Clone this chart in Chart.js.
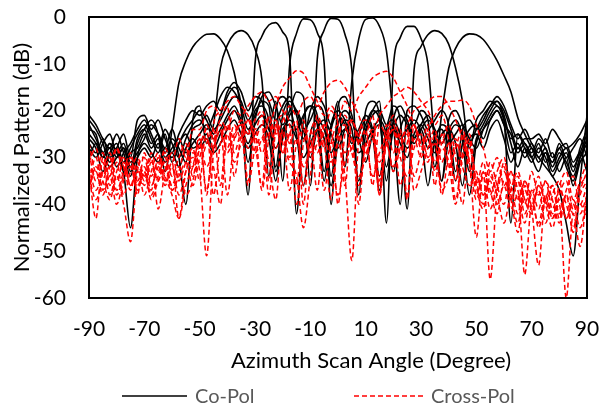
<!DOCTYPE html>
<html>
<head>
<meta charset="utf-8">
<script src="https://cdn.jsdelivr.net/npm/chart.js@4.4.1/dist/chart.umd.min.js"></script>
<style>
html, body { margin: 0; padding: 0; background: #fff; }
#wrap { width: 602px; height: 403px; position: relative; }
</style>
</head>
<body>
<div id="wrap"><canvas id="pattern"></canvas></div>
<script>
// azimuth angles (degree), shared by every curve
const angles = [
  -90, -87.5, -85, -82.5, -80, -77.5, -75, -72.5,
  -70, -67.5, -65, -62.5, -60, -57.5, -55, -52.5,
  -50, -47.5, -45, -42.5, -40, -37.5, -35, -32.5,
  -30, -27.5, -25, -22.5, -20, -17.5, -15, -12.5,
  -10, -7.5, -5, -2.5, 0, 2.5, 5, 7.5,
  10, 12.5, 15, 17.5, 20, 22.5, 25, 27.5,
  30, 32.5, 35, 37.5, 40, 42.5, 45, 47.5,
  50, 52.5, 55, 57.5, 60, 62.5, 65, 67.5,
  70, 72.5, 75, 77.5, 80, 82.5, 85, 87.5,
  90
];

// co-polar beams (dB), one per scan position
const coPol1 = [
  -21, -23, -26, -28, -25, -29, -34, -27,
  -24, -22, -25, -33, -24, -14, -9.4, -6.4,
  -4.7, -3.7, -3.6, -4.7, -7.2, -11.9, -20, -31,
  -22, -18, -19, -33, -26, -21, -20, -24,
  -30, -24, -22, -25, -28, -24, -22, -26,
  -31, -25, -23, -26, -24, -27, -30, -25,
  -23, -26, -29, -25, -24, -27, -36, -26,
  -25, -28, -24, -22, -26, -31, -28, -29,
  -27, -30, -28, -32, -29, -31, -34, -30,
  -27
];
const coPol2 = [
  -24, -25, -30, -27, -29, -33, -45, -30,
  -26, -23, -25, -28, -24, -30, -40, -22,
  -19, -27, -23, -10.9, -6, -3.6, -2.9, -3.8,
  -6.8, -13.4, -34, -20, -17, -19, -24, -21,
  -19, -23, -35, -24, -21, -23, -27, -25,
  -22, -25, -37, -24, -22, -25, -28, -26,
  -24, -28, -26, -23, -25, -35, -27, -24,
  -23, -26, -22, -20, -23, -29, -27, -30,
  -28, -31, -29, -33, -30, -28, -32, -29,
  -25
];
const coPol3 = [
  -26, -28, -33, -29, -27, -31, -28, -25,
  -23, -26, -29, -25, -31, -27, -24, -22,
  -20, -22, -25, -21, -17, -15, -19, -38,
  -10, -4.1, -1.7, -1.2, -3.2, -8, -42, -22,
  -19, -21, -33, -23, -20, -22, -26, -24,
  -21, -24, -34, -25, -23, -26, -24, -22,
  -25, -36, -26, -24, -27, -25, -23, -26,
  -28, -24, -21, -19, -22, -27, -32, -28,
  -30, -27, -31, -29, -33, -30, -36, -31,
  -29
];
const coPol4 = [
  -22, -24, -27, -31, -28, -25, -30, -22,
  -21, -24, -22, -26, -29, -25, -22, -20,
  -21, -19, -18, -20, -16, -14, -16, -20,
  -17, -18, -24, -18, -35, -10.4, -3.5, -0.4,
  -0.6, -3.3, -9.9, -40, -19, -17, -21, -27,
  -23, -20, -22, -32, -24, -21, -23, -27,
  -24, -22, -25, -35, -26, -23, -25, -33,
  -26, -23, -20, -18, -21, -26, -25, -28,
  -31, -28, -30, -34, -31, -29, -33, -28,
  -24
];
const coPol5 = [
  -25, -27, -30, -28, -32, -29, -27, -24,
  -22, -25, -28, -24, -27, -30, -26, -23,
  -22, -24, -21, -17, -15, -16, -19, -24,
  -21, -17, -16, -19, -23, -20, -16, -17,
  -36, -9, -2.8, -0.3, -0.5, -3.7, -11.3, -38,
  -20, -18, -21, -35, -22, -19, -22, -26,
  -23, -21, -24, -27, -24, -22, -26, -38,
  -27, -24, -22, -20, -23, -25, -29, -27,
  -30, -33, -29, -31, -28, -32, -35, -30,
  -26
];
const coPol6 = [
  -23, -26, -29, -27, -30, -28, -32, -26,
  -24, -27, -25, -29, -26, -28, -31, -24,
  -23, -21, -24, -22, -19, -17, -18, -22,
  -19, -16, -18, -22, -19, -17, -21, -26,
  -20, -17, -19, -23, -18, -32, -13.7, -4.7,
  -0.5, -0.2, -2, -7.2, -22, -40, -20, -19,
  -21, -24, -22, -20, -23, -33, -24, -22,
  -24, -22, -19, -18, -20, -24, -28, -26,
  -26, -25, -27, -24, -26, -28, -27, -25,
  -22
];
const coPol7 = [
  -27, -29, -26, -30, -28, -33, -29, -28,
  -25, -28, -26, -30, -28, -26, -29, -27,
  -25, -23, -26, -24, -21, -19, -22, -25,
  -20, -19, -22, -32, -21, -18, -20, -24,
  -22, -19, -21, -34, -23, -20, -22, -27,
  -24, -20, -18, -44, -10.6, -4.4, -2, -2,
  -4.6, -10.1, -27, -35, -22, -20, -23, -27,
  -24, -21, -19, -17, -19, -23, -26, -24,
  -27, -29, -26, -30, -28, -27, -31, -29,
  -33
];
const coPol8 = [
  -28, -30, -27, -25, -29, -27, -31, -29,
  -27, -29, -31, -28, -30, -27, -25, -28,
  -27, -25, -28, -25, -22, -20, -23, -27,
  -23, -21, -24, -28, -24, -22, -25, -36,
  -25, -22, -24, -29, -25, -22, -24, -35,
  -25, -21, -20, -23, -19, -22, -41, -11.3,
  -6.3, -3.8, -2.9, -3.5, -5.8, -10.9, -18, -28,
  -22, -20, -18, -19, -22, -44, -25, -27,
  -29, -26, -28, -31, -27, -30, -28, -26,
  -30
];
const coPol9 = [
  -30, -27, -29, -32, -30, -28, -33, -30,
  -28, -30, -27, -31, -29, -32, -28, -26,
  -28, -26, -29, -27, -24, -22, -25, -28,
  -25, -23, -26, -35, -25, -23, -26, -30,
  -27, -24, -26, -36, -27, -24, -26, -29,
  -27, -24, -22, -25, -33, -24, -21, -23,
  -20, -22, -32, -20.6, -11, -6.7, -4.4, -3.6,
  -3.8, -4.8, -6.8, -9.3, -12.5, -16, -21.5, -25,
  -28, -30, -32, -34, -37, -44, -51, -35,
  -21
];

// cross-polar curves (dB), same scan positions
const crossPol1 = [
  -27, -33, -29, -36, -31, -38, -33, -30,
  -34, -29, -33, -28, -31, -26, -30, -24,
  -24, -20, -19, -21, -19, -34, -25, -22,
  -26, -23, -38, -24, -21, -27, -23, -36,
  -25, -22, -28, -24, -40, -25, -22, -27,
  -24, -36, -23, -26, -32, -25, -39, -23,
  -27, -31, -25, -37, -34, -27, -30, -26,
  -36, -31, -38, -33, -30, -37, -34, -40,
  -33, -38, -35, -41, -36, -33, -39, -35,
  -31
];
const crossPol2 = [
  -29, -35, -31, -38, -34, -40, -48, -33,
  -30, -36, -32, -29, -34, -30, -27, -32,
  -25, -38, -23, -20, -18, -17, -19, -21,
  -24, -21, -35, -23, -29, -25, -22, -40,
  -26, -37, -23, -27, -25, -21, -26, -36,
  -27, -24, -38, -26, -23, -29, -25, -34,
  -29, -25, -31, -27, -23, -30, -40, -28,
  -35, -40, -33, -37, -31, -36, -42, -35,
  -38, -34, -40, -36, -43, -37, -34, -40,
  -36
];
const crossPol3 = [
  -33, -43, -30, -34, -28, -32, -37, -31,
  -35, -30, -41, -33, -29, -35, -31, -28,
  -35, -23, -26, -22, -24, -20, -21, -19,
  -17, -16, -18, -17, -20, -23, -36, -22,
  -29, -24, -27, -39, -26, -23, -29, -34,
  -30, -26, -36, -27, -24, -30, -34, -28,
  -25, -30, -27, -38, -29, -26, -32, -36,
  -34, -38, -31, -36, -40, -33, -37, -44,
  -37, -41, -35, -39, -44, -38, -42, -37,
  -33
];
const crossPol4 = [
  -31, -28, -34, -30, -37, -33, -29, -35,
  -32, -37, -30, -34, -38, -43, -33, -30,
  -31, -27, -24, -36, -23, -26, -22, -25,
  -22, -20, -23, -19, -15, -13, -11.5, -12,
  -15, -18, -21, -19, -23, -36, -22, -26,
  -29, -25, -38, -27, -33, -28, -24, -37,
  -33, -28, -24, -31, -27, -39, -29, -25,
  -36, -41, -34, -38, -44, -37, -33, -39,
  -42, -36, -40, -45, -38, -35, -41, -36,
  -34
];
const crossPol5 = [
  -35, -30, -37, -32, -28, -34, -31, -38,
  -29, -34, -31, -36, -32, -38, -33, -29,
  -33, -51, -29, -25, -28, -23, -26, -22,
  -27, -36, -21, -25, -22, -19, -21, -18,
  -17, -19, -16, -14, -13.5, -15, -18, -21,
  -25, -21, -35, -23, -29, -24, -38, -26,
  -30, -26, -33, -28, -31, -40, -30, -27,
  -38, -33, -37, -42, -35, -39, -46, -36,
  -40, -37, -44, -38, -35, -43, -39, -42,
  -38
];
const crossPol6 = [
  -37, -32, -35, -39, -33, -30, -36, -32,
  -38, -33, -29, -35, -31, -43, -36, -32,
  -26, -37, -27, -23, -29, -25, -22, -35,
  -24, -29, -25, -22, -27, -31, -34, -45,
  -34, -21, -24, -20, -22, -18, -20, -17,
  -15, -13, -12, -11.6, -13, -16, -19, -23,
  -27, -23, -36, -25, -32, -28, -24, -31,
  -39, -34, -41, -36, -33, -38, -44, -37,
  -41, -36, -39, -43, -37, -40, -45, -38,
  -35
];
const crossPol7 = [
  -32, -37, -33, -29, -35, -31, -36, -33,
  -36, -31, -35, -30, -37, -33, -28, -34,
  -27, -32, -28, -24, -38, -26, -23, -28,
  -25, -37, -26, -23, -29, -25, -40, -27,
  -24, -29, -25, -31, -27, -34, -52, -26,
  -22, -25, -21, -19, -17, -16, -15, -16,
  -18, -20, -23, -21, -26, -35, -25, -32,
  -33, -38, -35, -40, -36, -41, -38, -55,
  -40, -44, -38, -42, -39, -43, -40, -45,
  -39
];
const crossPol8 = [
  -34, -39, -35, -32, -38, -34, -30, -36,
  -33, -38, -34, -31, -36, -32, -38, -35,
  -28, -24, -38, -27, -23, -29, -25, -36,
  -28, -26, -31, -39, -24, -30, -26, -32,
  -28, -25, -37, -27, -23, -29, -26, -40,
  -27, -34, -29, -25, -21, -26, -23, -20,
  -19, -18, -17, -17, -19, -22, -26, -31,
  -47, -33, -56, -37, -32, -39, -35, -42,
  -38, -45, -39, -36, -42, -38, -46, -40,
  -43
];
const crossPol9 = [
  -36, -33, -38, -34, -40, -35, -32, -37,
  -33, -39, -35, -32, -37, -34, -31, -36,
  -30, -26, -32, -40, -25, -31, -27, -24,
  -29, -26, -23, -28, -25, -37, -27, -24,
  -30, -27, -23, -29, -38, -31, -28, -24,
  -29, -26, -31, -27, -24, -36, -27, -23,
  -28, -24, -21, -19, -18, -18, -17.7, -19,
  -23, -28, -33, -30, -36, -33, -39, -35,
  -41, -53, -38, -43, -40, -60, -42, -49,
  -37
];

const coPolSeries = [coPol1, coPol2, coPol3, coPol4, coPol5, coPol6, coPol7, coPol8, coPol9];
const crossPolSeries = [crossPol1, crossPol2, crossPol3, crossPol4, crossPol5, crossPol6, crossPol7, crossPol8, crossPol9];

const legendItems = [
    { label: 'Co-Pol', color: '#000000', dash: [] },
    { label: 'Cross-Pol', color: '#ff0000', dash: [5, 3] }
];

const FONT = 'Lato, "Open Sans", sans-serif';

Chart.defaults.font.family = FONT;
Chart.defaults.color = '#000000';

function toPoints(values) {
    return angles.map((a, i) => ({ x: a, y: values[i] }));
}

const datasets = [];
coPolSeries.forEach((values, idx) => {
    datasets.push({
        label: 'Co-Pol ' + (idx + 1),
        data: toPoints(values),
        borderColor: legendItems[0].color,
        borderWidth: 1.6,
        pointRadius: 0,
        cubicInterpolationMode: 'monotone',
        fill: false,
        order: 1
    });
});
crossPolSeries.forEach((values, idx) => {
    datasets.push({
        label: 'Cross-Pol ' + (idx + 1),
        data: toPoints(values),
        borderColor: legendItems[1].color,
        borderWidth: 1.5,
        borderDash: legendItems[1].dash,
        pointRadius: 0,
        cubicInterpolationMode: 'monotone',
        fill: false,
        order: 0
    });
});

// frame round the plot, x title and the bottom legend
const decorations = {
    id: 'decorations',
    afterDatasetsDraw(chart) {
        const { ctx, chartArea: a } = chart;
        ctx.save();
        ctx.strokeStyle = '#000000';
        ctx.lineWidth = 2;
        ctx.strokeRect(a.left, a.top, a.right - a.left, a.bottom - a.top);
        ctx.restore();
    },
    afterDraw(chart) {
        const { ctx, chartArea: a } = chart;
        ctx.save();
        ctx.font = '22px ' + FONT;
        ctx.fillStyle = '#000000';
        ctx.textAlign = 'center';
        ctx.textBaseline = 'middle';
        ctx.fillText('Azimuth Scan Angle (Degree)', (a.left + a.right) / 2 + 33, 361);

        const slots = [{ x: 122, w: 65 }, { x: 354, w: 69 }];
        const y = 396;
        ctx.font = '20px ' + FONT;
        ctx.textAlign = 'left';
        legendItems.forEach((item, i) => {
            const s = slots[i];
            ctx.beginPath();
            ctx.setLineDash(item.dash);
            ctx.strokeStyle = item.color;
            ctx.lineWidth = 1.5;
            ctx.moveTo(s.x, y);
            ctx.lineTo(s.x + s.w, y);
            ctx.stroke();
            ctx.setLineDash([]);
            ctx.fillStyle = '#595959';
            ctx.fillText(item.label, s.x + s.w + 8, y + 1);
        });
        ctx.restore();
    }
};

new Chart(document.getElementById('pattern').getContext('2d'), {
    type: 'line',
    data: { datasets },
    options: {
        responsive: true,
        maintainAspectRatio: false,
        animation: false,
        devicePixelRatio: 1,
        layout: { padding: { left: 0, right: 15, top: 17, bottom: 0 } },
        scales: {
            x: {
                type: 'linear',
                min: -90,
                max: 90,
                grid: { display: false, drawTicks: false },
                border: { display: false },
                ticks: { stepSize: 20, padding: 19, font: { size: 21 }, color: '#000000' },
                afterFit: (scale) => {
                    scale.height = 105;
                    scale.paddingLeft = 0;
                    scale.paddingRight = 0;
                }
            },
            y: {
                min: -60,
                max: 0,
                grid: { display: false, drawTicks: false },
                border: { display: false },
                ticks: { stepSize: 10, padding: 23, font: { size: 21 }, color: '#000000' },
                title: {
                    display: true,
                    text: 'Normalized Pattern (dB)',
                    font: { size: 22 },
                    color: '#000000',
                    padding: { top: 9, bottom: 0 }
                },
                afterFit: (scale) => {
                    scale.width = 89;
                    scale.paddingTop = 0;
                    scale.paddingBottom = 0;
                }
            }
        },
        plugins: {
            legend: { display: false },
            tooltip: { enabled: false }
        }
    },
    plugins: [decorations]
});
</script>
</body>
</html>
